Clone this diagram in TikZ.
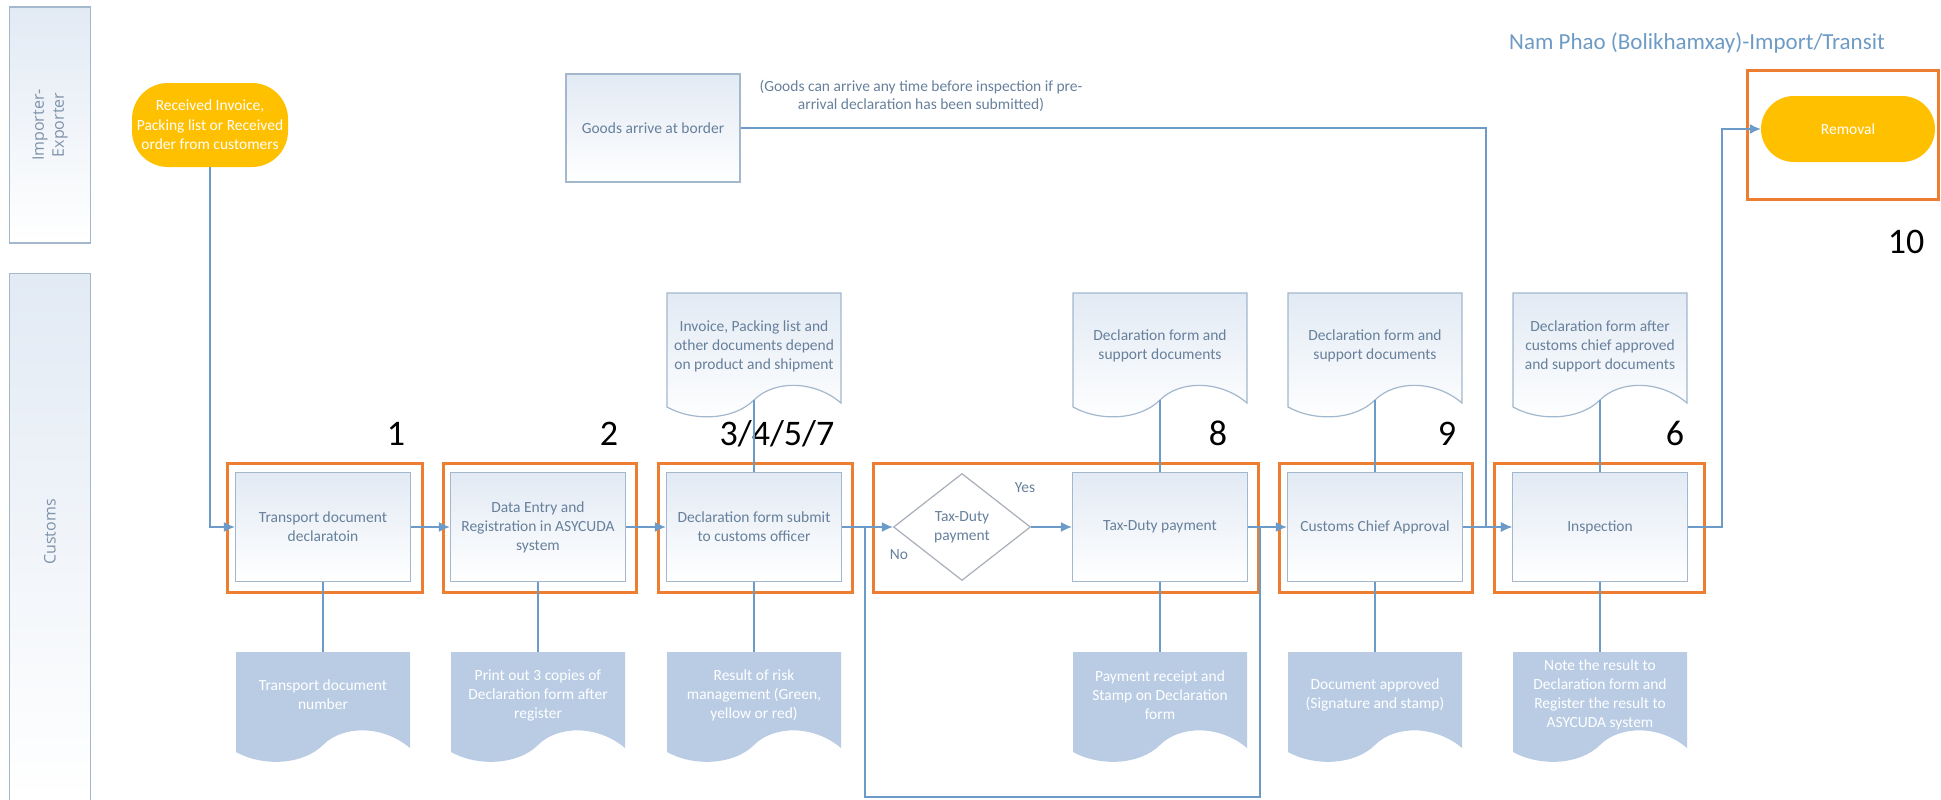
\documentclass[tikz,border=0pt]{standalone}
\usepackage{fontspec}
\setmainfont{Carlito}
\newfontfamily\lanefont{Open Sans}
\usetikzlibrary{arrows.meta,shapes.geometric,calc}

\definecolor{lineblue}{HTML}{6C9BC9}
\definecolor{boxedge}{HTML}{A3B7CD}
\definecolor{boxtext}{HTML}{67809C}
\definecolor{lanetxt}{HTML}{7F93A9}
\definecolor{orangeq}{HTML}{ED7D31}
\definecolor{yellowq}{HTML}{FFC000}
\definecolor{docfill}{HTML}{B9CCE4}
\definecolor{boxtop}{HTML}{E2EAF4}
\definecolor{titleblue}{HTML}{6E9BC5}
\definecolor{diaedge}{HTML}{A8AFB8}

\newcommand\mydocpath[4]{\path[#1] (#2-87,#3) -- (#2+87,#3) -- (#2+87,#4+3) .. controls (#2+60,#4-20) and (#2+20,#4-20) .. (#2,#4) .. controls (#2-20,#4+20) and (#2-60,#4+22) .. (#2-87,#4+7) -- cycle;}

\begin{document}
\begin{tikzpicture}[x=1pt,y=-1pt,
  lane/.style={draw=boxedge, line width=1.2pt, top color=boxtop, bottom color=white, minimum width=81, inner sep=0},
  lanetext/.style={text=lanetxt, font=\lanefont\fontsize{16}{20}\selectfont, align=center, rotate=90},
  stepbox/.style={draw=boxedge, line width=1.2pt, top color=boxtop, bottom color=white, text=boxtext, font=\fontsize{15.5}{19}\selectfont, align=center, minimum width=175, minimum height=109, inner sep=2pt},
  doctext/.style={text=boxtext, font=\fontsize{15.5}{19}\selectfont, align=center, minimum width=174, inner sep=0},
  bdoctext/.style={text=white, font=\fontsize{15.5}{19}\selectfont, align=center, minimum width=174, minimum height=86, inner sep=0},
  topdoc/.style={draw=boxedge, line width=1.2pt, top color=boxtop, bottom color=white},
  botdoc/.style={fill=docfill},
  hilite/.style={draw=orangeq, line width=3pt},
  num/.style={font=\fontsize{36}{42}\selectfont, text=black, anchor=base, inner sep=0},
  conn/.style={draw=lineblue, line width=1.5pt},
  arr/.style={-{Latex[length=11pt,width=10pt]}},
  term/.style={fill=yellowq, text=white, font=\fontsize{15.5}{19.5}\selectfont, align=center, inner sep=0},
  small/.style={text=boxtext, font=\fontsize{15.5}{18}\selectfont}
]
\useasboundingbox (0,0) rectangle (1941,800);

% swimlanes
\node[lane, minimum height=236] (laneIE) at (50,125) {};
\node[lanetext] (laneIEt) at (50,125) {Importer-\\Exporter};
\node[lane, minimum height=527] (laneC) at (50,537) {};
\node[lanetext] (laneCt) at (50,532) {Customs};

% title
\node[text=titleblue, font=\fontsize{23}{27}\selectfont] (title) at (1697,43) {Nam Phao (Bolikhamxay)-Import/Transit};

% terminals
\node[term, rounded corners=36, minimum width=156, minimum height=84] (recv) at (210,125) {Received Invoice,\\Packing list or Received\\order from customers};
\node[term, rounded corners=33, minimum width=174, minimum height=66] (rem) at (1848,129) {Removal};

% goods arrive
\node[stepbox, minimum width=174, minimum height=108] (goods) at (653,128) {Goods arrive at border};
\node[text=boxtext, font=\fontsize{15.5}{18}\selectfont, align=center] (note) at (921,96) {(Goods can arrive any time before inspection if pre-\\arrival declaration has been submitted)};

% top documents
\mydocpath{topdoc}{754}{293}{400}
\mydocpath{topdoc}{1160}{293}{400}
\mydocpath{topdoc}{1375}{293}{400}
\mydocpath{topdoc}{1600}{293}{400}
\node[doctext, minimum height=107] (td3) at (754,346) {Invoice, Packing list and\\other documents depend\\on product and shipment};
\node[doctext, minimum height=107] (td8) at (1160,346) {Declaration form and\\support documents};
\node[doctext, minimum height=107] (td9) at (1375,346) {Declaration form and\\support documents};
\node[doctext, minimum height=107] (td6) at (1600,346) {Declaration form after\\customs chief approved\\and support documents};

% bottom documents
\mydocpath{botdoc}{323}{652}{745}
\mydocpath{botdoc}{538}{652}{745}
\mydocpath{botdoc}{754}{652}{745}
\mydocpath{botdoc}{1160}{652}{745}
\mydocpath{botdoc}{1375}{652}{745}
\mydocpath{botdoc}{1600}{652}{745}
\node[bdoctext] (bd1) at (323,695) {Transport document\\number};
\node[bdoctext] (bd2) at (538,695) {Print out 3 copies of\\Declaration form after\\register};
\node[bdoctext] (bd3) at (754,695) {Result of risk\\management (Green,\\yellow or red)};
\node[bdoctext] (bd8) at (1160,695) {Payment receipt and\\Stamp on Declaration\\form};
\node[bdoctext] (bd9) at (1375,695) {Document approved\\(Signature and stamp)};
\node[bdoctext] (bd6) at (1600,695) {Note the result to\\Declaration form and\\Register the result to\\ASYCUDA system};

% process boxes
\node[stepbox] (b1) at (323,527) {Transport document\\declaratoin};
\node[stepbox] (b2) at (538,527) {Data Entry and\\Registration in ASYCUDA\\system};
\node[stepbox] (b3) at (754,527) {Declaration form submit\\to customs officer};
\node[draw=diaedge, line width=1.2pt, fill=white, diamond, minimum width=137, minimum height=107, inner sep=0, text=boxtext, font=\fontsize{15.5}{19}\selectfont, align=center] (dia) at (962,527) {Tax-Duty\\payment};
\node[stepbox] (tax) at (1160,527) {Tax-Duty payment};
\node[stepbox] (b9) at (1375,527) {Customs Chief Approval};
\node[stepbox] (insp) at (1600,527) {Inspection};

\node[small] (yes) at (1025,488) {Yes};
\node[small] (no) at (899,555) {No};

% highlight frames
\draw[hilite] (227,463) rectangle (422,592);
\draw[hilite] (443,463) rectangle (636,592);
\draw[hilite] (658,463) rectangle (852,592);
\draw[hilite] (873,463) rectangle (1258,592);
\draw[hilite] (1279,463) rectangle (1472,592);
\draw[hilite] (1494,463) rectangle (1704,592);
\draw[hilite] (1747,71) rectangle (1938,199);

% step numbers
\node[num] (n1) at (396,445) {1};
\node[num] (n2) at (609,445) {2};
\node[num] (n3) at (777,445) {3/4/5/7};
\node[num] (n8) at (1218,445) {8};
\node[num] (n9) at (1447,445) {9};
\node[num] (n6) at (1675,445) {6};
\node[num] (n10) at (1906,253) {10};

% helper coordinates
\coordinate (j6) at (1486,527);
\coordinate (j10) at (1722,527);
\coordinate (lpA) at (1260,527);
\coordinate (lpB) at (865,527);
\coordinate (lpbot) at (1060,797);

% connectors
\draw[conn,arr] (recv.south) |- (b1.west);
\draw[conn,arr] (b1.east) -- (b2.west);
\draw[conn,arr] (b2.east) -- (b3.west);
\draw[conn,arr] (b3.east) -- (dia.west);
\draw[conn,arr] (dia.east) -- (tax.west);
\draw[conn,arr] (tax.east) -- (b9.west);
\draw[conn,arr] (b9.east) -- (insp.west);
\draw[conn,arr] (goods.east) -| (j6) -- (insp.west);
\draw[conn,arr] (insp.east) -- (j10) |- (rem.west);
\draw[conn] (lpA) |- (lpbot) -| (lpB);

\draw[conn] (td3.south) -- (b3.north);
\draw[conn] (td8.south) -- (tax.north);
\draw[conn] (td9.south) -- (b9.north);
\draw[conn] (td6.south) -- (insp.north);

\draw[conn] (b1.south) -- (bd1.north);
\draw[conn] (b2.south) -- (bd2.north);
\draw[conn] (b3.south) -- (bd3.north);
\draw[conn] (tax.south) -- (bd8.north);
\draw[conn] (b9.south) -- (bd9.north);
\draw[conn] (insp.south) -- (bd6.north);
\end{tikzpicture}
\end{document}
